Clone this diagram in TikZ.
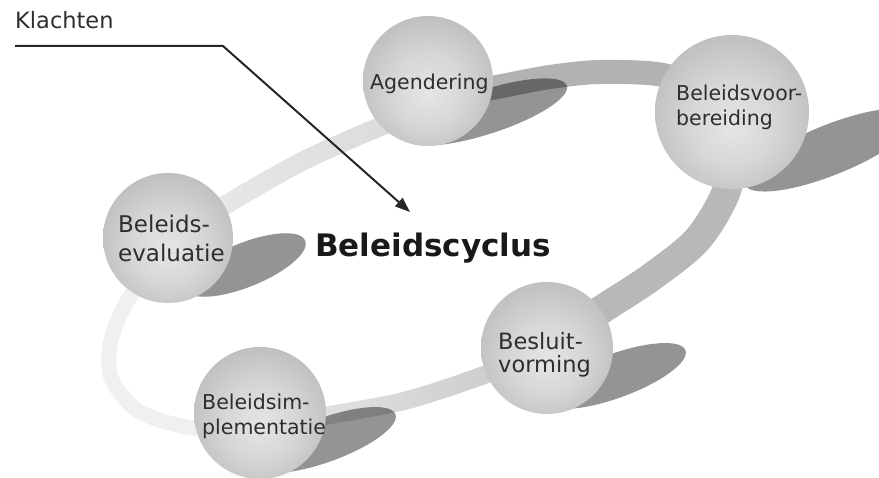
\documentclass[tikz,border=0pt]{standalone}
\usepackage{fontspec}
\setmainfont{DejaVu Sans}
\usetikzlibrary{arrows.meta,fadings}
\pgfdeclareradialshading{spherebw}{\pgfpoint{0bp}{-5bp}}{color(0bp)=(black!10); color(14bp)=(black!16); color(32bp)=(black!28); color(44bp)=(black!37); color(50bp)=(black!43)}
\tikzfading[name=fadeleft, left color=transparent!100, right color=transparent!0]
\tikzfading[name=faderight, left color=transparent!0, right color=transparent!100]
\definecolor{txt}{HTML}{2E2E2E}
\tikzset{
  orb/.style={circle, inner sep=0pt, shade, shading=spherebw, minimum size=#1},
  shadowfill/.style={fill=black, fill opacity=0.42},
  band/.style={line cap=butt, line join=round},
  lbl/.style={inner sep=0pt, anchor=base west, text=txt, font=\fontsize{#1}{#1}\selectfont},
  arrowline/.style={draw=black!85, line width=2pt, -{Triangle[length=15pt,width=11pt]}}
}
\begin{document}
\begin{tikzpicture}[x=1pt, y=-1pt]
\useasboundingbox (0,0) rectangle (879,478);
% ring band
\draw[band, line width=19pt, draw=black!8] plot[smooth] coordinates {(175,238) (227,204) (295,165) (333,147) (377,128) (430,108)};
\draw[band, line width=19pt, draw=black!15, path fading=fadeleft] plot[smooth] coordinates {(175,238) (227,204) (295,165) (333,147) (377,128) (430,108)};
\draw[band, line width=24pt, draw=black!30] plot[smooth] coordinates {(430,100) (497,87) (550,77) (600,72) (663,75) (715,95)};
\draw[band, line width=29pt, draw=black!28] plot[smooth] coordinates {(735,140) (726,192) (697,240) (650,278) (601,310) (550,345)};
\draw[band, line width=18pt, draw=black!9] plot[smooth] coordinates {(550,352) (487,374) (450,387) (400,402) (330,415) (265,425)};
\draw[band, line width=18pt, draw=black!22, path fading=fadeleft] plot[smooth] coordinates {(550,352) (487,374) (450,387) (400,402) (330,415) (265,425)};
\draw[band, line width=15pt, draw=black!6] plot[smooth] coordinates {(265,430) (193,428) (140,412) (112,380) (110,345) (125,305) (160,255)};
% shadows
\fill[shadowfill] (486,112) circle [x radius=85pt, y radius=22pt, rotate=18];
\fill[shadowfill] (830,150) circle [x radius=92pt, y radius=25pt, rotate=22];
\fill[shadowfill] (245,265) circle [x radius=65pt, y radius=22pt, rotate=22];
\fill[shadowfill] (615,376) circle [x radius=75pt, y radius=22pt, rotate=20];
\fill[shadowfill] (325,440) circle [x radius=75pt, y radius=22pt, rotate=20];
% spheres
\node[orb=130pt] (ag) at (428,81) {};
\node[orb=154pt] (vb) at (732,112) {};
\node[orb=130pt] (ev) at (168,238) {};
\node[orb=132pt] (bv) at (547,348) {};
\node[orb=132pt] (im) at (260,413) {};
% labels
\node[lbl=20.5] (agT) at (370,90) {Agendering};
\node[lbl=20.5] (vbA) at (676,101) {Beleidsvoor-};
\node[lbl=20.5] (vbB) at (676,126) {bereiding};
\node[lbl=23] (evA) at (118,233) {Beleids-};
\node[lbl=23] (evB) at (118,262) {evaluatie};
\node[lbl=22.5] (bvA) at (498,350) {Besluit-};
\node[lbl=22.5] (bvB) at (498,373) {vorming};
\node[lbl=20.5] (imA) at (202,410) {Beleidsim-};
\node[lbl=20.5] (imB) at (202,435) {plementatie};
\node[inner sep=0pt, anchor=base west, text=black!90, font=\fontsize{31}{31}\selectfont\bfseries] (title) at (315,257) {Beleidscyclus};
\node[lbl=22.5] (kl) at (15,29) {Klachten};
% arrow
\coordinate (k1) at (15,46);
\coordinate (k2) at (223,46);
\coordinate (k3) at (410,212);
\draw[arrowline] (k1) -- (k2) -- (k3);
\end{tikzpicture}
\end{document}
